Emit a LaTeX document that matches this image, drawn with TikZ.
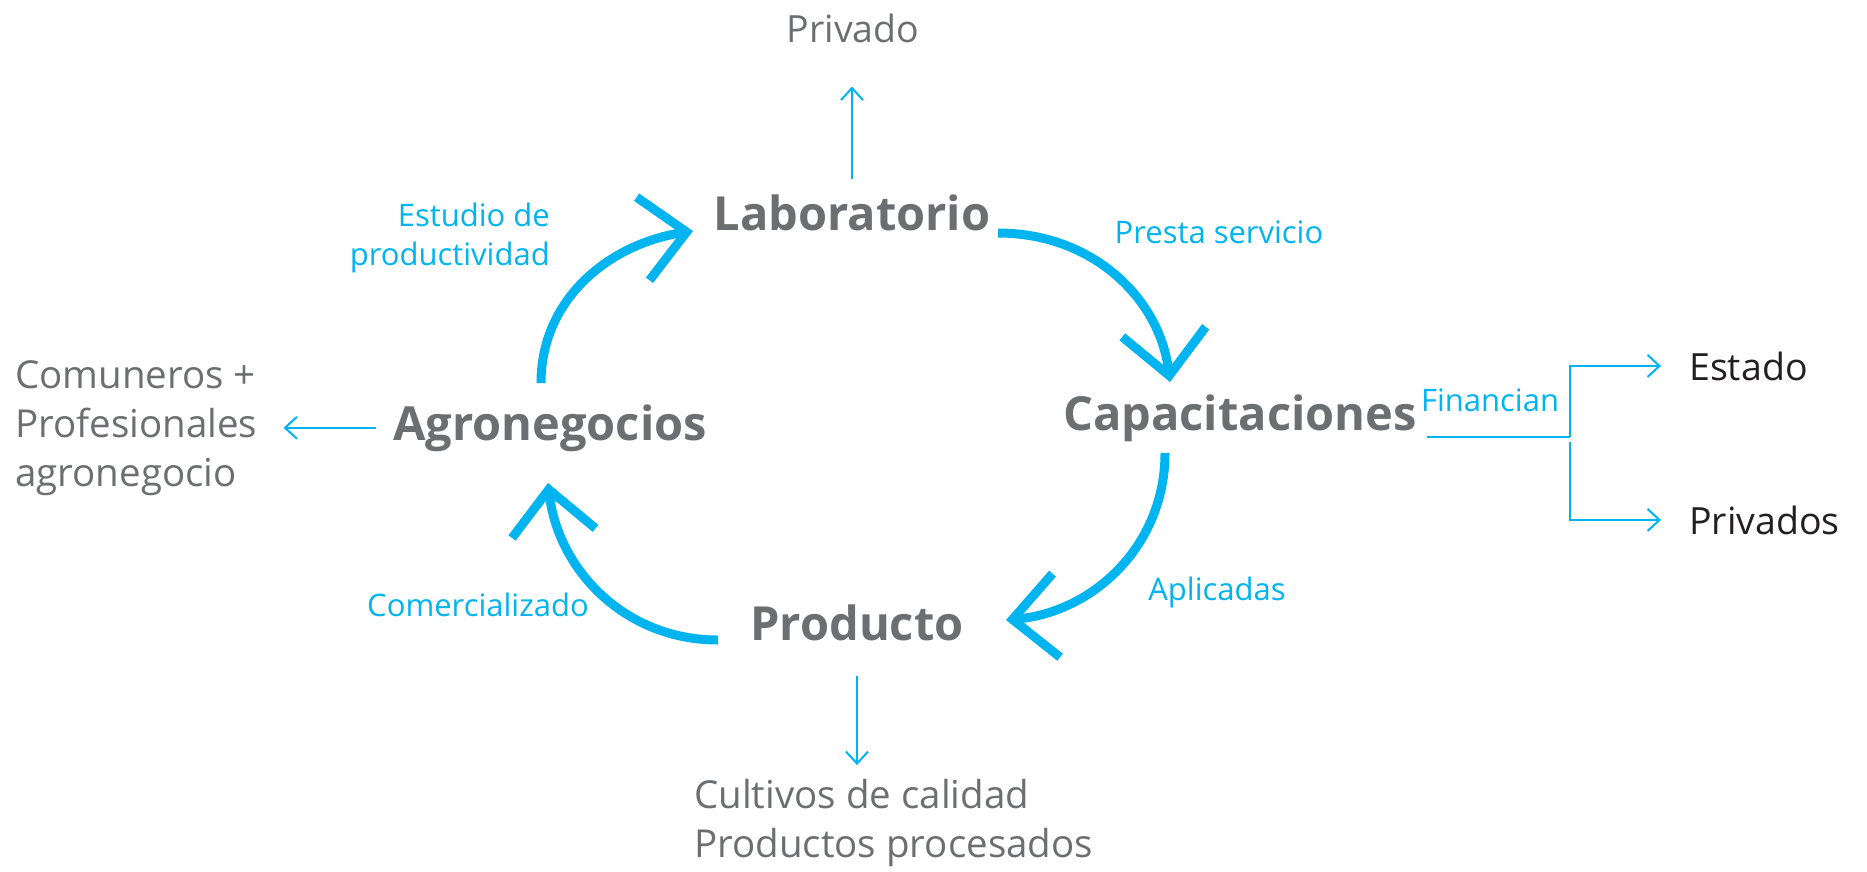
\documentclass[tikz,border=0pt]{standalone}
\usepackage{fontspec}
\setmainfont{Open Sans}
\usetikzlibrary{arrows.meta,calc}
\definecolor{cy}{HTML}{00B4EF}
\definecolor{gr}{HTML}{6D6E71}
\definecolor{dk}{HTML}{231F20}
\begin{document}
\begin{tikzpicture}[x=1pt,y=-1pt,
  hub/.style={inner sep=0pt, text=gr, font=\bfseries\fontsize{47}{56}\selectfont},
  outtxt/.style={inner sep=0pt, text=gr, font=\fontsize{38.5}{49}\selectfont, align=left},
  darktxt/.style={inner sep=0pt, text=dk, font=\fontsize{37.5}{49}\selectfont},
  lbl/.style={inner sep=0pt, text=cy, font=\fontsize{31}{39}\selectfont},
  bigarr/.style={draw=cy, line width=9pt, -{Straight Barb[length=44pt,width=84pt]}},
  thinarr/.style={draw=cy, line width=2pt, -{Straight Barb[length=12pt,width=22pt]}},
  thinline/.style={draw=cy, line width=2pt}]
\useasboundingbox (0,0) rectangle (1867,871);

% main nodes
\node[hub, anchor=base] (lab) at (852,230) {Laboratorio};
\node[hub, anchor=base] (cap) at (1240,430) {Capacitaciones};
\node[hub, anchor=base] (prod) at (857,640) {Producto};
\node[hub, anchor=base] (agro) at (550,440) {Agronegocios};

% outer texts
\node[darktxt, text=gr, anchor=base] (priv) at (853,42) {Privado};
\node[outtxt, anchor=west] (com) at (15,428) {Comuneros +\\Profesionales\\agronegocio};
\node[outtxt, anchor=west] (cult) at (694,823) {Cultivos de calidad\\Productos procesados};
\node[darktxt, anchor=base west] (est) at (1689,380) {Estado};
\node[darktxt, anchor=base west] (pvs) at (1689,534) {Privados};

% cyan labels
\node[lbl, align=right, anchor=east] (lest) at (550,238) {Estudio de\\productividad};
\node[lbl] (lpre) at (1219,232) {Presta servicio};
\node[lbl] (lfin) at (1490,400) {Financian};
\node[lbl] (lapl) at (1217,592) {Aplicadas};
\node[lbl] (lcom) at (478,605) {Comercializado};

% cycle arcs
\coordinate (a1s) at (541,383); \coordinate (a1e) at (693,231);
\coordinate (a2s) at (998,233); \coordinate (a2e) at (1170,382);
\coordinate (a3s) at (1165,453); \coordinate (a3e) at (1006,620);
\coordinate (a4s) at (718,640); \coordinate (a4e) at (548,483);
\draw[bigarr] (a1s) .. controls (541,299) and (609,244) .. (a1e);
\draw[bigarr] (a2s) .. controls (1093,233) and (1160,299) .. (a2e);
\draw[bigarr] (a3s) .. controls (1165,545) and (1094,612) .. (a3e);
\draw[bigarr] (a4s) .. controls (625,640) and (558,570) .. (a4e);

% thin arrows
\draw[thinarr, shorten <=15pt, shorten >=44pt] (lab.north) -- (lab.north |- priv.south);
\draw[thinarr, shorten <=35pt, shorten >=14pt] (prod.south) -- (prod.south |- cult.north);
\draw[thinarr, shorten <=17pt, shorten >=26pt] (agro.west) -- (agro.west -| com.east);

% financing fork
\coordinate (fork) at (1570,437);
\draw[thinline] ([xshift=10pt]cap.east |- fork) -- (fork);
\draw[thinarr, shorten >=28pt] (fork) |- (est.west);
\draw[thinarr, shorten >=28pt] ([yshift=-5pt]fork) |- (pvs.west);
\end{tikzpicture}
\end{document}
